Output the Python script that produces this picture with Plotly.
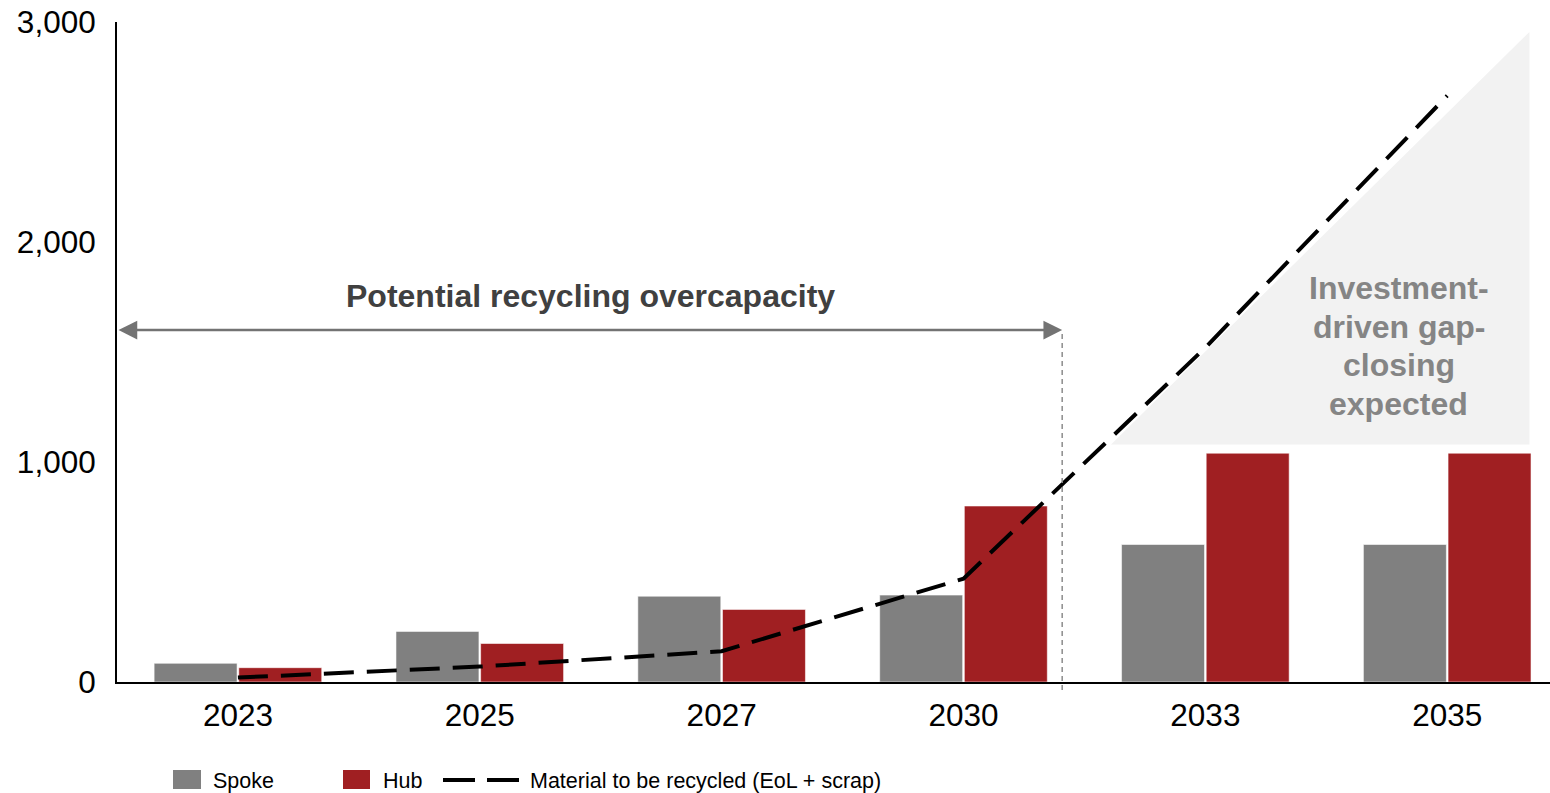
import plotly.graph_objects as go

# Recycling capacity by site type vs. material volume to be recycled (kt)
years = ["2023", "2025", "2027", "2030", "2033", "2035"]
spoke = [85, 230, 390, 395, 625, 625]
hub = [65, 175, 330, 800, 1040, 1040]
material = [20, 70, 140, 470, 1520, 2665]
y_ticks = [0, 1000, 2000, 3000]
y_tick_text = ["0", "1,000", "2,000", "3,000"]
gap_note = ["Investment-", "driven gap-", "closing", "expected"]

GRAY = "#808080"
RED = "#A01F22"
FONT = "Liberation Sans, Arial, sans-serif"

# Figure geometry (pixels) used to place paper-anchored items
W, H = 1550, 793
ML, MR, MT, MB = 117, 0, 22, 111
PW, PH = W - ML - MR, H - MT - MB


def px_x(p):
    return (p - ML) / PW


def px_y(p):
    return (H - MB - p) / PH


fig = go.Figure()
fig.add_trace(go.Bar(
    x=years, y=spoke, name="Spoke",
    marker=dict(color=GRAY, line=dict(color="rgba(255,255,255,0.55)", width=1)),
    showlegend=False,
))
fig.add_trace(go.Bar(
    x=years, y=hub, name="Hub",
    marker=dict(color=RED, line=dict(color="rgba(255,255,255,0.55)", width=1)),
    showlegend=False,
))
fig.add_trace(go.Scatter(
    x=years, y=material, name="Material to be recycled (EoL + scrap)",
    mode="lines", line=dict(color="black", width=4, dash="30px,13px"),
    showlegend=False,
))

shapes = []
annotations = []

# Shaded wedge for the expected investment-driven gap closing
shapes.append(dict(
    type="path", xref="x", yref="y", layer="below",
    path="M 3.61,1080 L 5.34,2955 L 5.34,1080 Z",
    fillcolor="#F2F2F2", line=dict(width=0),
))
for i, line in enumerate(gap_note):
    annotations.append(dict(
        x=4.8, y=px_y(288 + 38.7 * i), xref="x", yref="paper", showarrow=False,
        text=line, yanchor="middle",
        font=dict(family=FONT, size=32, color="#858585", weight="bold"),
    ))

# Overcapacity span: double-headed arrow and dashed boundary
shapes.append(dict(
    type="line", xref="x", yref="paper",
    x0=3.408, x1=3.408, y0=px_y(690), y1=px_y(330),
    line=dict(color="#8C8C8C", width=1.5, dash="5px,4px"),
))
annotations.append(dict(
    x=3.408, y=1600, ax=-0.5, ay=1600, xref="x", yref="y", axref="x", ayref="y",
    text="", showarrow=True, arrowhead=2, arrowside="end+start",
    arrowwidth=2.5, arrowsize=1.5, arrowcolor="#737373",
))
annotations.append(dict(
    x=1.456, y=px_y(296), xref="x", yref="paper", showarrow=False,
    text="Potential recycling overcapacity", yanchor="middle",
    font=dict(family=FONT, size=32, color="#404040", weight="bold"),
))

# Legend row below the axis
for x0, x1, col in [(173, 201, GRAY), (343, 370, RED)]:
    shapes.append(dict(
        type="rect", xref="paper", yref="paper",
        x0=px_x(x0), x1=px_x(x1), y0=px_y(789), y1=px_y(770),
        fillcolor=col, line=dict(width=0),
    ))
shapes.append(dict(
    type="line", xref="paper", yref="paper",
    x0=px_x(443), x1=px_x(519), y0=px_y(780), y1=px_y(780),
    line=dict(color="black", width=4, dash="32px,12px"),
))
for xl, label in [(211, "Spoke"), (381, "Hub"), (528, "Material to be recycled (EoL + scrap)")]:
    annotations.append(dict(
        x=px_x(xl), y=px_y(781), xref="paper", yref="paper",
        xanchor="left", yanchor="middle", showarrow=False, text=label,
        font=dict(family=FONT, size=21.5, color="black"),
    ))

fig.update_layout(
    width=W, height=H,
    margin=dict(l=ML, r=MR, t=MT, b=MB, pad=0),
    paper_bgcolor="white", plot_bgcolor="white",
    barmode="group", bargap=0.3, bargroupgap=0.02,
    font=dict(family=FONT, color="black"),
    shapes=shapes, annotations=annotations,
    showlegend=False,
)
fig.update_xaxes(
    type="category", range=[-0.5, 5.425],
    showline=True, linecolor="black", linewidth=2,
    showgrid=False, ticks="", ticklabelstandoff=4,
    tickfont=dict(family=FONT, size=31.5, color="black"),
)
fig.update_yaxes(
    range=[0, 3000], tickvals=y_ticks, ticktext=y_tick_text,
    showline=True, linecolor="black", linewidth=2,
    showgrid=False, zeroline=False, ticks="", ticklabelstandoff=13,
    tickfont=dict(family=FONT, size=31.5, color="black"),
)

fig.write_html("out.html")
